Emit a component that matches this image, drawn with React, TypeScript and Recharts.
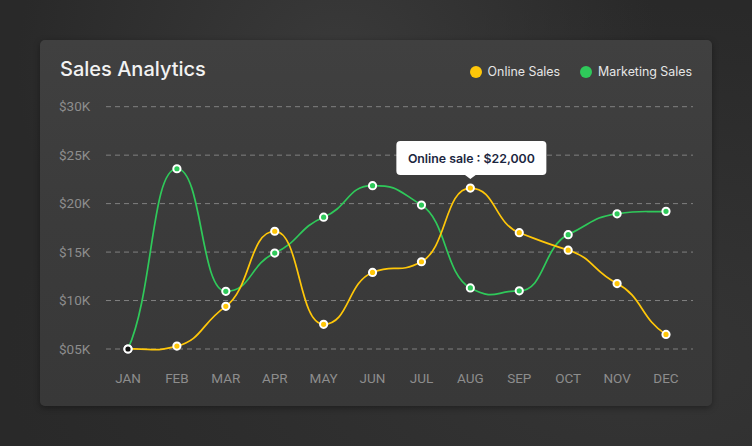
import React from 'react';
import { LineChart, Line, XAxis, YAxis, CartesianGrid, LabelList } from 'recharts';

const months = ['JAN', 'FEB', 'MAR', 'APR', 'MAY', 'JUN', 'JUL', 'AUG', 'SEP', 'OCT', 'NOV', 'DEC'];
const onlineSales = [5000, 5300, 9400, 17150, 7550, 12900, 14000, 21600, 17000, 15200, 11750, 6500];
const marketingSales = [5000, 23600, 10950, 14900, 18600, 21850, 19850, 11300, 11000, 16800, 18950, 19200];
const yTicks = [5000, 10000, 15000, 20000, 25000, 30000];
const yTickLabels = ['$05K', '$10K', '$15K', '$20K', '$25K', '$30K'];
const tooltipIndex = 7;
const tooltipValue = 22000;

const ONLINE = '#FFC709';
const MARKETING = '#2FC95A';

const chartData = months.map((m, i) => ({
  month: m,
  online: onlineSales[i],
  marketing: marketingSales[i],
}));

// smooth curve with long handles: flat at turning points, steep in between
function softCurve(k: number, handle: number) {
  return (context: any) => {
    let pts: { x: number; y: number }[] = [];
    return {
      areaStart() {},
      areaEnd() {},
      lineStart() {
        pts = [];
      },
      point(x: number, y: number) {
        pts.push({ x: +x, y: +y });
      },
      lineEnd() {
        const n = pts.length;
        if (!n) return;
        const slopes = pts.map((p, i) => {
          const a = pts[i - 1] ?? p;
          const b = pts[i + 1] ?? p;
          if (i > 0 && i < n - 1 && (p.y - a.y) * (b.y - p.y) <= 0) return 0;
          const dx = b.x - a.x;
          return dx ? (k * (b.y - a.y)) / dx : 0;
        });
        context.moveTo(pts[0].x, pts[0].y);
        for (let i = 1; i < n; i++) {
          const a = pts[i - 1];
          const b = pts[i];
          const h = (b.x - a.x) * handle;
          context.bezierCurveTo(a.x + h, a.y + slopes[i - 1] * h, b.x - h, b.y - slopes[i] * h, b.x, b.y);
        }
      },
    };
  };
}

const curve = softCurve(0.6, 0.52);

const makeDot = (color: string, firstColor?: string) => (p: any) => (
  <circle
    key={`dot-${p.index}`}
    cx={p.cx}
    cy={p.cy}
    r={3.6}
    fill={p.index === 0 && firstColor ? firstColor : color}
    stroke="#ffffff"
    strokeWidth={2}
  />
);

const YTick = (props: any) => {
  const i = yTicks.indexOf(props.payload.value);
  return (
    <text x={19} y={props.y} dy={4.5} fill="#8d8d8d" fontSize={13.5} fontFamily="Roboto" textAnchor="start">
      {yTickLabels[i]}
    </text>
  );
};

const XTick = (props: any) => (
  <text x={props.x} y={props.y + 33.5} fill="#8d8d8d" fontSize={13.5} fontFamily="Roboto" textAnchor="middle">
    {props.payload.value}
  </text>
);

const TooltipBox = (props: any) => {
  if (props.index !== tooltipIndex) return null;
  const x = Number(props.x);
  const y = Number(props.y);
  return (
    <g>
      <rect x={x - 74} y={y - 47} width={150} height={34} rx={4} fill="#ffffff" />
      <path d={`M${x - 6},${y - 13.5} L${x},${y - 9} L${x + 6},${y - 13.5} Z`} fill="#ffffff" />
      <text
        x={x + 1}
        y={y - 25.5}
        textAnchor="middle"
        fill="#1b2640"
        fontSize={12.3}
        fontWeight={600}
        fontFamily="Inter"
      >
        {`Online sale : $${tooltipValue.toLocaleString('en-US')}`}
      </text>
    </g>
  );
};

export default function App() {
  return (
    <div
      style={{
        position: 'absolute',
        left: 0,
        top: 0,
        width: 752,
        height: 446,
        overflow: 'hidden',
        background:
          'radial-gradient(ellipse at 45% 15%, #3a3a3a 0%, rgba(46,46,46,0) 55%), radial-gradient(ellipse at 85% 80%, #353535 0%, #292929 70%)',
      }}
    >
      <div
        style={{
          position: 'absolute',
          left: 40,
          top: 40,
          width: 672,
          height: 366,
          borderRadius: 5,
          background: 'linear-gradient(180deg, #404040 0%, #3b3b3b 50%, #383838 100%)',
          boxShadow: '0 2px 6px rgba(0,0,0,0.35)',
        }}
      >
        <div
          style={{
            position: 'absolute',
            left: 20,
            top: 17,
            fontFamily: 'Inter',
            fontSize: 20,
            fontWeight: 500,
            color: '#f2f2f2',
          }}
        >
          Sales Analytics
        </div>
        <div
          style={{
            position: 'absolute',
            right: 20,
            top: 24,
            display: 'flex',
            alignItems: 'center',
            fontFamily: 'Inter',
            fontSize: 12.4,
            color: '#e6e6e6',
          }}
        >
          <span style={{ width: 12, height: 12, borderRadius: 6, background: ONLINE, marginRight: 6 }} />
          <span style={{ marginRight: 20 }}>Online Sales</span>
          <span style={{ width: 12, height: 12, borderRadius: 6, background: MARKETING, marginRight: 6 }} />
          <span>Marketing Sales</span>
        </div>
        <LineChart
          width={672}
          height={366}
          data={chartData}
          margin={{ top: 66.7, right: 19, bottom: 0, left: 0 }}
          style={{ position: 'absolute', left: 0, top: 0 }}
        >
          <CartesianGrid vertical={false} stroke="#808080" strokeDasharray="5 4" />
          <XAxis
            dataKey="month"
            scale="point"
            padding={{ left: 22, right: 27 }}
            axisLine={false}
            tickLine={false}
            tickSize={0}
            tickMargin={0}
            height={57}
            tick={<XTick />}
            interval={0}
          />
          <YAxis
            domain={[5000, 30000]}
            ticks={yTicks}
            axisLine={false}
            tickLine={false}
            tickSize={0}
            tickMargin={0}
            width={66}
            tick={<YTick />}
            interval={0}
          />
          <Line
            dataKey="marketing"
            type={curve as any}
            stroke={MARKETING}
            strokeWidth={1.7}
            dot={makeDot(MARKETING)}
            activeDot={false}
            isAnimationActive={false}
          />
          <Line
            dataKey="online"
            type={curve as any}
            stroke={ONLINE}
            strokeWidth={1.7}
            dot={makeDot(ONLINE, '#111111')}
            activeDot={false}
            isAnimationActive={false}
          >
            <LabelList dataKey="online" content={<TooltipBox />} />
          </Line>
        </LineChart>
      </div>
    </div>
  );
}
